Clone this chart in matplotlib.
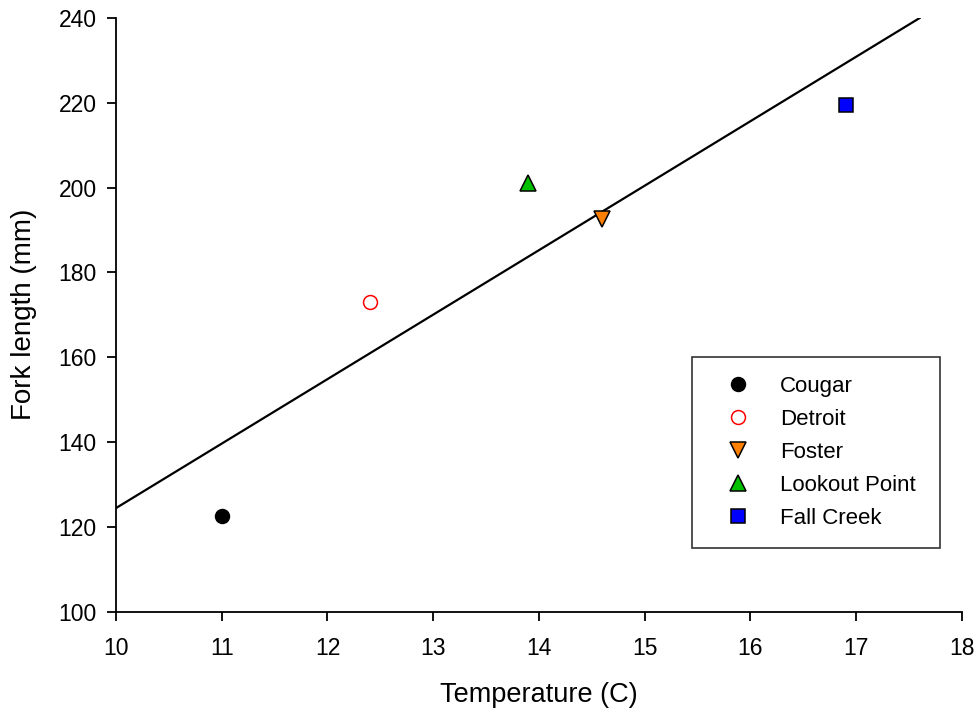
import matplotlib
matplotlib.use("Agg")
import matplotlib.pyplot as plt

plt.rcParams['font.family'] = ['Liberation Sans', 'DejaVu Sans']

# site means
sites = ['Cougar', 'Detroit', 'Foster', 'Lookout Point', 'Fall Creek']
temps = [11.0, 12.4, 14.6, 13.9, 16.9]
lengths = [122.5, 173.0, 192.5, 201.0, 219.5]

# regression line end points
line_x = [10.0, 17.6]
line_y = [124.4, 240.0]

markers = ['o', 'o', 'v', '^', 's']
sizes = [10, 10, 11, 11, 10]
faces = ['black', 'white', '#FF8000', '#00C000', '#0000FF']
edges = ['black', 'red', 'black', 'black', 'black']

fig = plt.figure(figsize=(9.78, 7.12), dpi=100)
ax = fig.add_axes([0.1186, 0.1411, 0.865, 0.8336])

ax.plot(line_x, line_y, color='black', lw=1.6, zorder=2)
for i in range(len(sites)):
    ax.plot(temps[i], lengths[i], linestyle='none', marker=markers[i],
            markersize=sizes[i], markerfacecolor=faces[i], markeredgecolor=edges[i],
            markeredgewidth=1.1, label=sites[i], zorder=3)

ax.set_xlim(10, 18)
ax.set_ylim(100, 240)
ax.set_xticks(range(10, 19))
ax.set_yticks(range(100, 241, 20))
ax.spines['top'].set_visible(False)
ax.spines['right'].set_visible(False)
ax.spines['left'].set_linewidth(1.3)
ax.spines['bottom'].set_linewidth(1.3)
ax.tick_params(direction='out', length=6.5, width=1.3, labelsize=16.5)
ax.tick_params(axis='x', pad=12)
ax.tick_params(axis='y', pad=7.5)

ax.set_xlabel('Temperature (C)', fontsize=19.5, labelpad=16)
ax.set_ylabel('Fork length (mm)', fontsize=20, labelpad=15)

# legend box: lower left corner + size in axes fraction
leg = ax.legend(loc='upper left', bbox_to_anchor=(0.681, 0.110, 0.293, 0.319),
                mode='expand', fontsize=16, frameon=True, fancybox=False,
                edgecolor='black', borderpad=0.85, labelspacing=0.54,
                handletextpad=0.7, borderaxespad=0, handlelength=2.4)
leg.get_frame().set_linewidth(1.2)

fig.savefig('out.png', dpi=100)
